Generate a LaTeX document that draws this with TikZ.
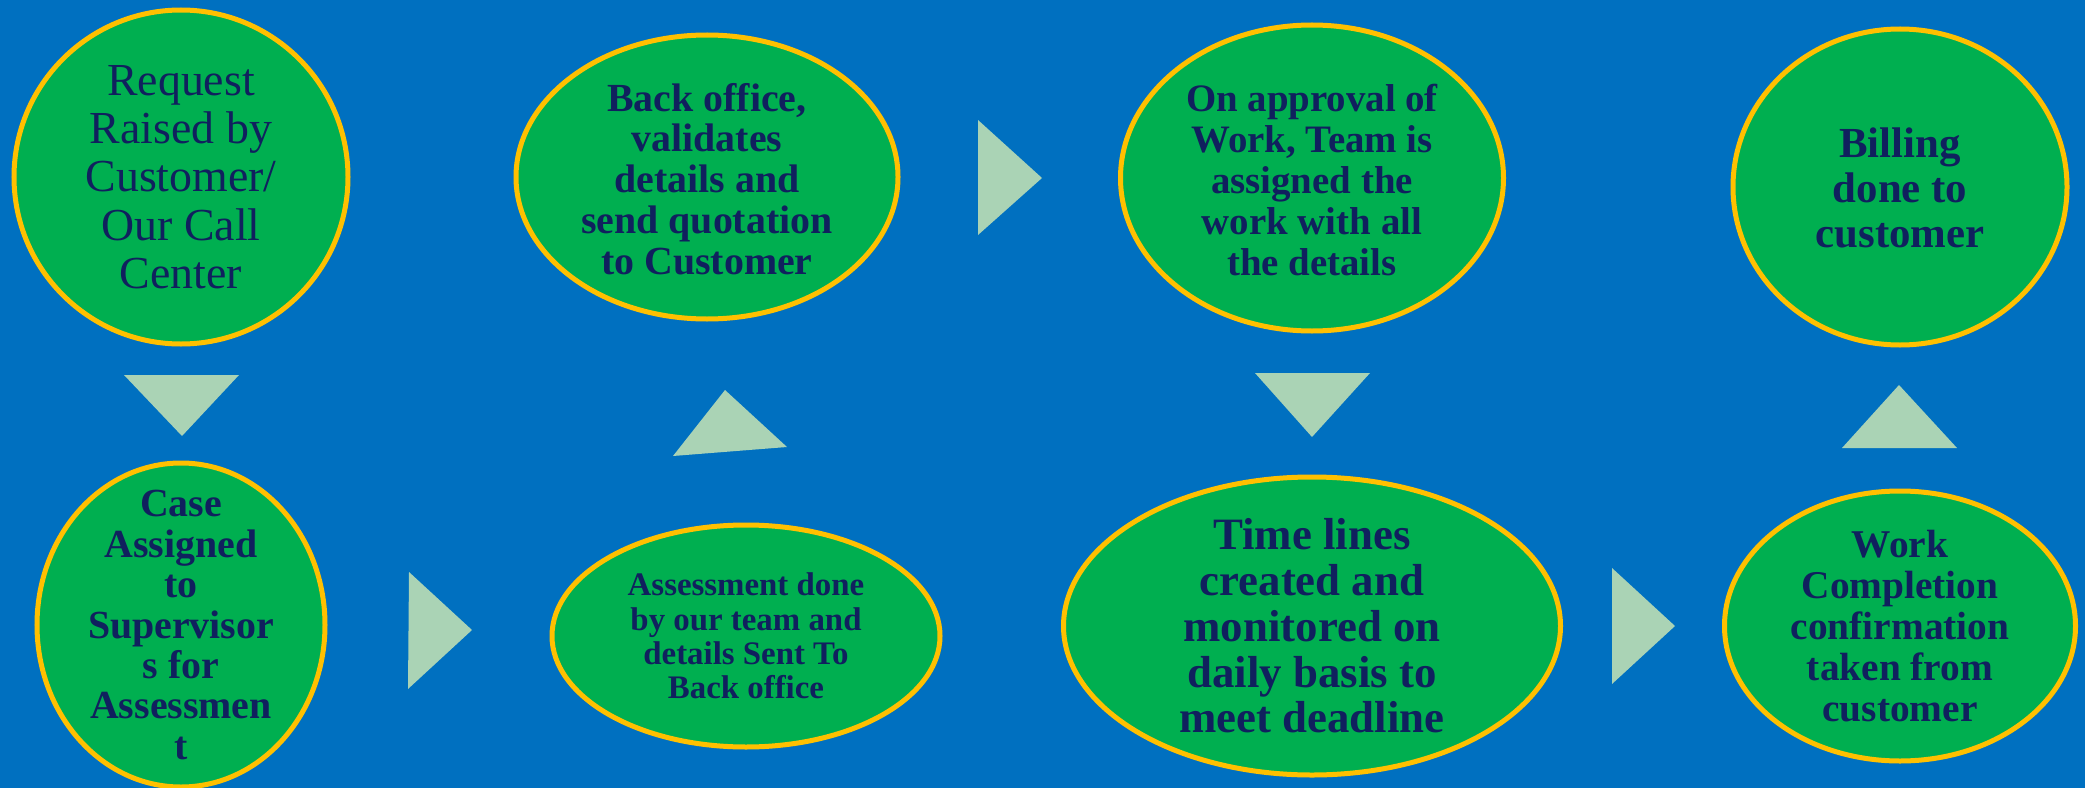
\documentclass[tikz,border=0pt]{standalone}
\usepackage{fontspec}
\setmainfont{Liberation Serif}
\usetikzlibrary{shapes.geometric}
\definecolor{bgblue}{HTML}{0070C0}
\definecolor{bubgreen}{HTML}{00AF50}
\definecolor{bubgold}{HTML}{FFC000}
\definecolor{navy}{HTML}{10205E}
\definecolor{tri}{HTML}{AAD3B5}
\newcommand{\fs}[2]{\fontsize{#1}{#2}\selectfont}
\tikzset{
  bub/.style={ellipse, draw=bubgold, fill=bubgreen, line width=5bp, inner sep=0pt},
  txt/.style={align=center, text=navy, inner sep=0pt},
  trishape/.style={fill=tri, draw=none}
}
\begin{document}
\begin{tikzpicture}[x=1bp,y=-1bp]
\useasboundingbox (0,0) rectangle (2085,788);
\fill[bgblue] (0,0) rectangle (2085,788);

% bubbles
\node[bub, minimum width=334bp, minimum height=334bp] (b1) at (181,177) {};
\node[bub, minimum width=382bp, minimum height=284bp] (b2) at (707,177) {};
\node[bub, minimum width=383bp, minimum height=306bp] (b3) at (1312,178) {};
\node[bub, minimum width=334bp, minimum height=316bp] (b4) at (1900,187) {};
\node[bub, minimum width=288bp, minimum height=324bp] (b5) at (181,625) {};
\node[bub, minimum width=388bp, minimum height=222bp] (b6) at (746,636) {};
\node[bub, minimum width=497bp, minimum height=298bp] (b7) at (1312,626) {};
\node[bub, minimum width=351bp, minimum height=270bp] (b8) at (1900,626) {};

% texts
\node[txt, font=\fs{46}{48.5}] (t1) at (b1.center) {Request\\Raised by\\Customer/\\Our Call\\Center};
\node[txt, font=\fs{40}{41}\bfseries] (t2) at ([yshift=-2bp]b2.center) {Back office,\\validates\\details and\\send quotation\\to Customer};
\node[txt, font=\fs{39}{41}\bfseries] (t3) at ([yshift=-2bp]b3.center) {On approval of\\Work, Team is\\assigned the\\work with all\\the details};
\node[txt, font=\fs{43}{45}\bfseries] (t4) at ([yshift=-1bp]b4.center) {Billing\\done to\\customer};
\node[txt, font=\fs{40}{40.5}\bfseries] (t5) at (b5.center) {Case\\Assigned\\to\\Supervisor\\s for\\Assessmen\\t};
\node[txt, font=\fs{33}{34.6}\bfseries] (t6) at (b6.center) {Assessment done\\by our team and\\details Sent To\\Back office};
\node[txt, font=\fs{45}{46}\bfseries] (t7) at (b7.center) {Time lines\\created and\\monitored on\\daily basis to\\meet deadline};
\node[txt, font=\fs{39.5}{41}\bfseries] (t8) at (b8.center) {Work\\Completion\\confirmation\\taken from\\customer};

% triangles
\fill[trishape] (124,375) -- (239,375) -- (182,436) -- cycle;
\fill[trishape] (409,572) -- (408,689) -- (472,630) -- cycle;
\fill[trishape] (725,390) -- (787,447) -- (673,456) -- cycle;
\fill[trishape] (978,120) -- (978,235) -- (1042,178) -- cycle;
\fill[trishape] (1255,373) -- (1370,373) -- (1312,437) -- cycle;
\fill[trishape] (1612,568) -- (1612,684) -- (1675,626) -- cycle;
\fill[trishape] (1899,385) -- (1957,448) -- (1842,448) -- cycle;
\end{tikzpicture}
\end{document}
